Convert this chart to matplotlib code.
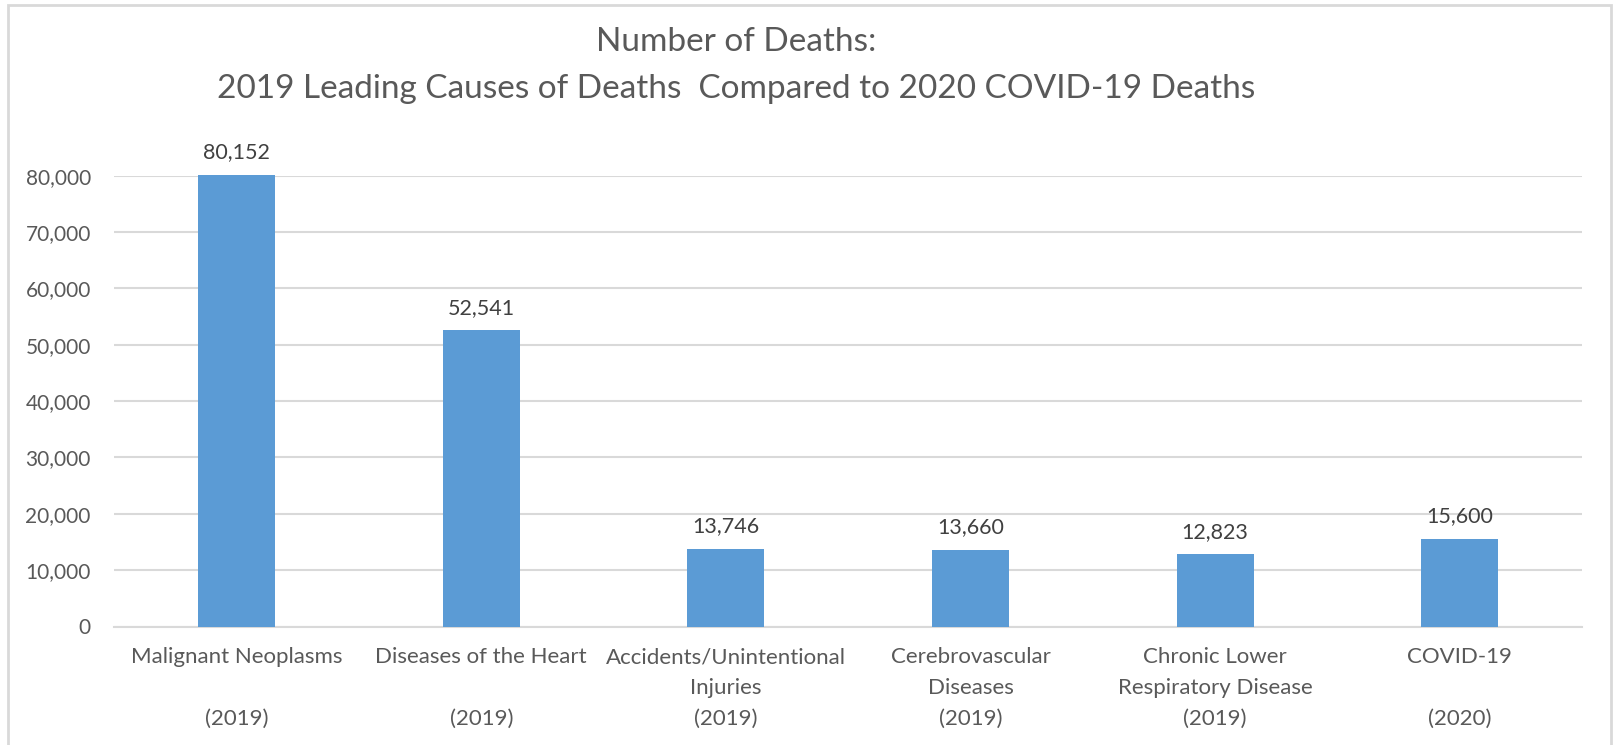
import matplotlib
matplotlib.use("Agg")
import matplotlib.pyplot as plt
from matplotlib.patches import Rectangle
from matplotlib.ticker import FuncFormatter

plt.rcParams["font.family"] = ["Lato", "DejaVu Sans"]

categories = [
    "Malignant Neoplasms\n\n(2019)",
    "Diseases of the Heart\n\n(2019)",
    "Accidents/Unintentional\nInjuries\n(2019)",
    "Cerebrovascular\nDiseases\n(2019)",
    "Chronic Lower\nRespiratory Disease\n(2019)",
    "COVID-19\n\n(2020)",
]
deaths = [80152, 52541, 13746, 13660, 12823, 15600]
y_ticks = [0, 10000, 20000, 30000, 40000, 50000, 60000, 70000, 80000]
title_lines = ["Number of Deaths:",
               "2019 Leading Causes of Deaths  Compared to 2020 COVID-19 Deaths"]

BAR = "#5B9BD5"
GRID = "#D9D9D9"
TEXT = "#595959"
LABEL = "#404040"

W, H = 1614, 745
fig = plt.figure(figsize=(W / 100, H / 100), dpi=100)
fig.patch.set_facecolor("white")

# light frame around the chart area
fig.patches.append(Rectangle((7.5 / W, -0.01), (1611 - 7.5) / W, (H - 4.5) / H + 0.01,
                             transform=fig.transFigure, fill=False,
                             edgecolor=GRID, linewidth=2))

ax = fig.add_axes([114.4 / W, (H - 626.5) / H, (1582 - 114.4) / W, (626.5 - 175.7) / H])
x = range(len(categories))
bars = ax.bar(x, deaths, width=0.315, color=BAR, zorder=3, clip_on=False)
labels = ax.bar_label(bars, labels=[f"{v:,}" for v in deaths], padding=9,
                      fontsize=15.5, color=LABEL)
for t in labels:
    t.set_annotation_clip(False)

ax.set_xlim(-0.5, len(categories) - 0.5)
ax.set_ylim(0, 80000)
ax.set_yticks(y_ticks)
ax.yaxis.set_major_formatter(FuncFormatter(lambda v, p: f"{int(v):,}"))
ax.set_xticks(list(x))
ax.set_xticklabels(categories, linespacing=1.68)
ax.tick_params(axis="y", length=0, pad=17, labelsize=15, labelcolor=TEXT)
ax.tick_params(axis="x", length=0, pad=15, labelsize=16, labelcolor=TEXT)
ax.grid(axis="y", color=GRID, linewidth=1.5, zorder=0)
for s in ("top", "right", "left"):
    ax.spines[s].set_visible(False)
ax.spines["bottom"].set_color(GRID)
ax.spines["bottom"].set_linewidth(1.5)

fig.text(736 / W, 1 - 42 / H, title_lines[0], ha="center", va="center",
         fontsize=24, color=TEXT)
fig.text(736 / W, 1 - 89 / H, title_lines[1], ha="center", va="center",
         fontsize=24, color=TEXT)

fig.savefig("out.png", dpi=100, facecolor="white")
